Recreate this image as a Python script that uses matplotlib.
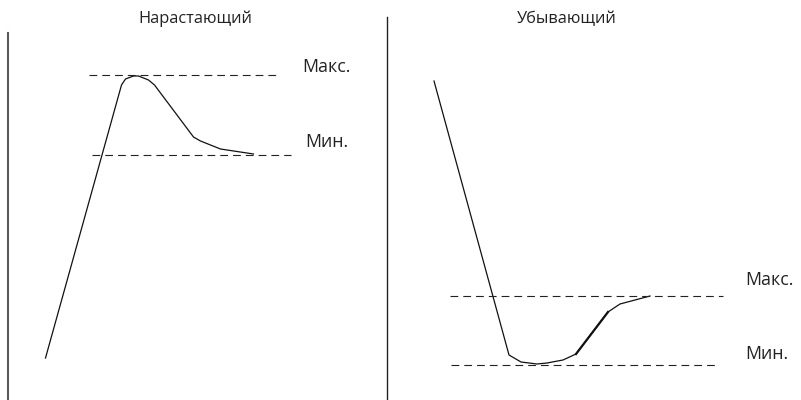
import matplotlib
matplotlib.use("Agg")
import matplotlib.pyplot as plt

# left panel ("rising") - curve and threshold levels
rise_x = [38, 114, 118, 126, 131, 141, 147, 186, 193, 213, 246]
rise_y = [42, 315, 321, 324, 324, 320, 315, 263, 259, 251, 246]
rise_max = 325
rise_min = 245
rise_max_span = (81.5, 271.5)
rise_min_span = (84.5, 283.5)

# right panel ("falling")
fall_x = [47.5, 122.5, 134.5, 150.5, 160.5, 176.5, 189.5, 221.5, 233.5, 263.5]
fall_y = [319, 45, 38, 36, 37, 40, 46, 88, 96, 104]
fall_max = 104
fall_min = 35
fall_max_span = (63.5, 336.5)
fall_min_span = (64.5, 328.5)

titles = ["Нарастающий", "Убывающий"]
lbl_max = "Макс."
lbl_min = "Мин."

plt.rcParams['font.family'] = ['Open Sans', 'DejaVu Sans']

W, H = 801, 400
fig = plt.figure(figsize=(W / 100, H / 100), dpi=100)

def make_ax(left_px, top_px, spine_color, spine_lw):
    ax = fig.add_axes([left_px / W, 0, 380 / W, (H - top_px) / H])
    ax.set_xlim(0, 380)
    ax.set_ylim(0, H - top_px)
    for s in ["top", "right", "bottom"]:
        ax.spines[s].set_visible(False)
    ax.spines["left"].set_color(spine_color)
    ax.spines["left"].set_linewidth(spine_lw)
    ax.set_xticks([])
    ax.set_yticks([])
    ax.patch.set_alpha(0)
    return ax

dash = dict(color="#222222", lw=0.8, linestyles=(0, (7, 4.5)))
txt = "#222222"

ax1 = make_ax(7.5, 33, "#5a5a5a", 1.5)
ax1.plot(rise_x, rise_y, color="#111111", lw=0.9)
ax1.hlines(rise_max, *rise_max_span, **dash)
ax1.hlines(rise_min, *rise_min_span, **dash)
ax1.text(294.5, 333, lbl_max, fontsize=12.8, color=txt, va="center")
ax1.text(297.5, 258, lbl_min, fontsize=12.8, color=txt, va="center")
ax1.text(187.5, 381, titles[0], fontsize=11.8, color=txt,
         ha="center", va="center", clip_on=False)

ax2 = make_ax(386.5, 17, "#222222", 1.0)
ax2.plot(fall_x, fall_y, color="#111111", lw=0.9)
ax2.plot(fall_x[6:8], fall_y[6:8], color="#111111", lw=1.6)
ax2.hlines(fall_max, *fall_max_span, **dash)
ax2.hlines(fall_min, *fall_min_span, **dash)
ax2.text(358.5, 120, lbl_max, fontsize=12.8, color=txt, va="center")
ax2.text(358.5, 46, lbl_min, fontsize=12.8, color=txt, va="center")
ax2.text(180.5, 381, titles[1], fontsize=11.8, color=txt,
         ha="center", va="center", clip_on=False)

fig.savefig("out.png", dpi=100)
